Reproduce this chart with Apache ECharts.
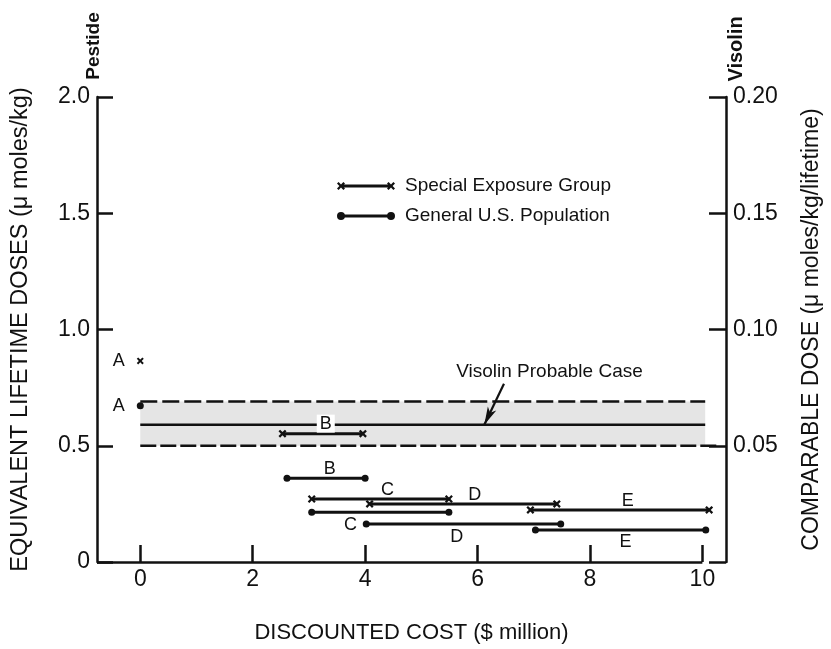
<!DOCTYPE html>
<html>
<head>
<meta charset="utf-8">
<title>Pestide and Visolin doses vs discounted cost</title>
<script src="https://cdn.jsdelivr.net/npm/echarts@6/dist/echarts.min.js"></script>
<style>
  html, body { margin: 0; padding: 0; background: #fff; }
  #chart { width: 831px; height: 649px; }
</style>
</head>
<body>
<div id="chart"></div>
<script>
// Axis ranges and tick labels
const costRange = [-0.77, 10.42];
const costTicks = [0, 2, 4, 6, 8, 10];
const doseTicks = [0, 0.5, 1.0, 1.5, 2.0];
const visolinTicks = [0, 0.05, 0.10, 0.15, 0.20];

// Pestide alternatives, Special Exposure Group (cost range in $ million, dose in µ moles/kg)
const specialNames = ['B', 'C', 'D', 'E'];
const specialStart = [2.53, 3.05, 4.08, 6.94];
const specialEnd   = [3.96, 5.49, 7.41, 10.12];
const specialDose  = [0.552, 0.271, 0.250, 0.224];
const specialLabelAt = [3.30, 4.40, 5.95, 8.67];

// Pestide alternatives, General U.S. Population
const generalNames = ['B', 'C', 'D', 'E'];
const generalStart = [2.61, 3.05, 4.02, 7.03];
const generalEnd   = [4.00, 5.49, 7.48, 10.06];
const generalDose  = [0.360, 0.214, 0.163, 0.138];
const generalLabelAt = [3.37, 3.74, 5.63, 8.63];

// Alternative A (zero cost)
const pointAName = 'A';
const specialA = [0, 0.865];
const generalA = [0, 0.672];

// Visolin probable case band (µ moles/kg/lifetime, right axis)
const probableLow  = 0.050;
const probableMid  = 0.059;
const probableHigh = 0.069;
const probableFrom = 0;
const probableTo   = 10.05;
const probableLowTo = 10.30;
const probableText = 'Visolin Probable Case';
const probableTextAt = [7.28, 0.818];          // cost, left-axis dose
const probableArrow = [[6.47, 0.0767], [6.12, 0.059]];

const SPECIAL = 'Special Exposure Group';
const GENERAL = 'General U.S. Population';

const FONT = "'Liberation Sans', Arial, Helvetica, sans-serif";
const INK = '#111';

// Filled "x" marker
function crossPath(ox, oy, s) {
  const p = [[0,2],[2,0],[5,3],[8,0],[10,2],[7,5],[10,8],[8,10],[5,7],[2,10],[0,8],[3,5]];
  return 'M' + p.map(q => (ox + q[0] * s / 10).toFixed(2) + ',' + (oy + q[1] * s / 10).toFixed(2)).join('L') + 'Z';
}
function circlePath(cx, cy, r) {
  return `M${cx - r},${cy}A${r},${r} 0 1,1 ${cx + r},${cy}A${r},${r} 0 1,1 ${cx - r},${cy}Z`;
}
const crossSymbol = 'path://' + crossPath(0, 0, 10);
const specialIcon = 'path://' + crossPath(0, 0, 8) + 'M4,2.6H54V5.4H4Z' + crossPath(50, 0, 8);
const generalIcon = 'path://' + circlePath(4, 4, 4) + 'M4,2.6H54V5.4H4Z' + circlePath(54, 4, 4);

const series = [];

// Shaded band with its centre line and callout arrow
series.push({
  type: 'line', yAxisIndex: 1, silent: true, symbol: 'none', z: 3,
  data: [[probableFrom, probableMid], [probableTo, probableMid]],
  lineStyle: { color: INK, width: 2.5 },
  markArea: {
    silent: true,
    itemStyle: { color: '#e5e5e5' },
    data: [[{ coord: [probableFrom, probableLow] }, { coord: [probableTo, probableHigh] }]]
  },
  markLine: {
    silent: true, symbol: ['none', 'arrow'], symbolSize: [7, 18],
    label: { show: false },
    lineStyle: { color: INK, width: 2.2, type: 'solid' },
    data: [[{ coord: probableArrow[0] }, { coord: probableArrow[1] }]]
  }
});
series.push({
  type: 'line', yAxisIndex: 1, silent: true, symbol: 'none', z: 3,
  data: [[probableFrom, probableHigh], [probableTo, probableHigh]],
  lineStyle: { color: INK, width: 2.5, type: [17, 5] }
});
series.push({
  type: 'line', yAxisIndex: 1, silent: true, symbol: 'none', z: 3,
  data: [[probableFrom, probableLow], [probableLowTo, probableLow]],
  lineStyle: { color: INK, width: 2.5, type: [16, 4] }
});

// Cost-range segments
specialNames.forEach((n, i) => {
  series.push({
    name: SPECIAL, type: 'line', symbol: crossSymbol, symbolSize: 8, z: 5,
    data: [[specialStart[i], specialDose[i]], [specialEnd[i], specialDose[i]]],
    lineStyle: { color: INK, width: 3 }, itemStyle: { color: INK, opacity: 1 }
  });
});
generalNames.forEach((n, i) => {
  series.push({
    name: GENERAL, type: 'line', symbol: 'circle', symbolSize: 7, z: 5,
    data: [[generalStart[i], generalDose[i]], [generalEnd[i], generalDose[i]]],
    lineStyle: { color: INK, width: 3 }, itemStyle: { color: INK, opacity: 1 }
  });
});

// Alternative A points
const labelA = { show: true, position: 'left', distance: 12, formatter: pointAName,
  fontSize: 18, color: INK, fontFamily: FONT };
series.push({
  name: SPECIAL, type: 'scatter', symbol: crossSymbol, symbolSize: 7, z: 6,
  itemStyle: { color: INK, opacity: 1 }, label: labelA, data: [specialA]
});
series.push({
  name: GENERAL, type: 'scatter', symbol: 'circle', symbolSize: 7, z: 6,
  itemStyle: { color: INK, opacity: 1 }, label: labelA, data: [generalA],
  markLine: {
    silent: true, symbol: 'none', label: { show: false },
    lineStyle: { color: INK, width: 2.5, type: 'solid' },
    data: [[{ coord: [costRange[0], 0] }, { coord: [costTicks[costTicks.length - 1], 0] }]]
  }
});

// Segment letters
const letterStyle = { show: true, position: 'inside', fontSize: 18, color: INK, fontFamily: FONT };
series.push({
  type: 'scatter', silent: true, symbolSize: 0, z: 7, itemStyle: { opacity: 1 },
  data: specialNames.map((n, i) => ({
    value: [specialLabelAt[i], specialDose[i]],
    label: Object.assign({}, letterStyle, { formatter: n, offset: [0, i === 0 ? -10 : -9],
      backgroundColor: i === 0 ? '#fff' : 'transparent', padding: [0, 3] })
  }))
});
series.push({
  type: 'scatter', silent: true, symbolSize: 0, z: 7, itemStyle: { opacity: 1 },
  data: generalNames.map((n, i) => ({
    value: [generalLabelAt[i], generalDose[i]],
    label: Object.assign({}, letterStyle, { formatter: n, offset: [0, i === 0 ? -9 : 12.5] })
  }))
});
series.push({
  type: 'scatter', silent: true, symbolSize: 0, z: 7, itemStyle: { opacity: 1 },
  data: [{ value: probableTextAt, label: Object.assign({}, letterStyle, { formatter: probableText, fontSize: 19 }) }]
});

const axisLineStyle = { color: INK, width: 2.5 };
const option = {
  animation: false,
  backgroundColor: '#fff',
  textStyle: { fontFamily: FONT, color: INK },
  grid: { left: 97, right: 96, top: 97, bottom: 85 },
  legend: {
    orient: 'vertical', left: 332, top: 171, itemWidth: 58, itemHeight: 8, itemGap: 10,
    selectedMode: false,
    textStyle: { fontSize: 19, color: INK, fontFamily: FONT, padding: [0, 0, 0, 5], lineHeight: 20 },
    data: [{ name: SPECIAL, icon: specialIcon }, { name: GENERAL, icon: generalIcon }]
  },
  xAxis: {
    type: 'value', min: costRange[0], max: costRange[1],
    name: 'DISCOUNTED COST ($ million)', nameLocation: 'middle', nameGap: 60,
    nameTextStyle: { fontSize: 22, color: INK, fontFamily: FONT },
    axisLine: { show: false, onZero: false },
    axisTick: { show: true, inside: true, length: 17, customValues: costTicks, lineStyle: axisLineStyle },
    axisLabel: { customValues: costTicks, fontSize: 23, color: INK, margin: 6, fontFamily: FONT },
    splitLine: { show: false }
  },
  yAxis: [{
    type: 'value', position: 'left', min: doseTicks[0], max: doseTicks[doseTicks.length - 1], interval: 0.5,
    name: 'EQUIVALENT LIFETIME DOSES (\u03bc moles/kg)', nameLocation: 'middle', nameRotate: 90, nameGap: 64,
    nameTextStyle: { fontSize: 23.5, color: INK, fontFamily: FONT },
    axisLine: { show: true, onZero: false, lineStyle: axisLineStyle },
    axisTick: { show: true, inside: true, length: 16, lineStyle: axisLineStyle },
    axisLabel: { fontSize: 23, color: INK, margin: 7, fontFamily: FONT,
      formatter: v => v === 0 ? '0' : v.toFixed(1) },
    splitLine: { show: false }
  }, {
    type: 'value', position: 'right', min: visolinTicks[0], max: visolinTicks[visolinTicks.length - 1], interval: 0.05,
    name: 'COMPARABLE DOSE (\u03bc moles/kg/lifetime)', nameLocation: 'middle', nameRotate: 90, nameGap: 74,
    nameTextStyle: { fontSize: 23, color: INK, fontFamily: FONT },
    axisLine: { show: true, onZero: false, lineStyle: axisLineStyle },
    axisTick: { show: true, inside: true, length: 17, lineStyle: axisLineStyle },
    axisLabel: { fontSize: 23, color: INK, margin: 7, fontFamily: FONT,
      formatter: v => v === 0 ? '' : v.toFixed(2) },
    splitLine: { show: false }
  }],
  graphic: [
    { type: 'text', x: 94, y: 46, rotation: Math.PI / 2, silent: true,
      style: { text: 'Pestide', font: 'bold 19px ' + FONT, fill: INK, align: 'center', verticalAlign: 'middle' } },
    { type: 'text', x: 736, y: 49, rotation: Math.PI / 2, silent: true,
      style: { text: 'Visolin', font: 'bold 20px ' + FONT, fill: INK, align: 'center', verticalAlign: 'middle' } }
  ],
  series: series
};

const chart = echarts.init(document.getElementById('chart'), null, { renderer: 'canvas' });
chart.setOption(option);
</script>
</body>
</html>
